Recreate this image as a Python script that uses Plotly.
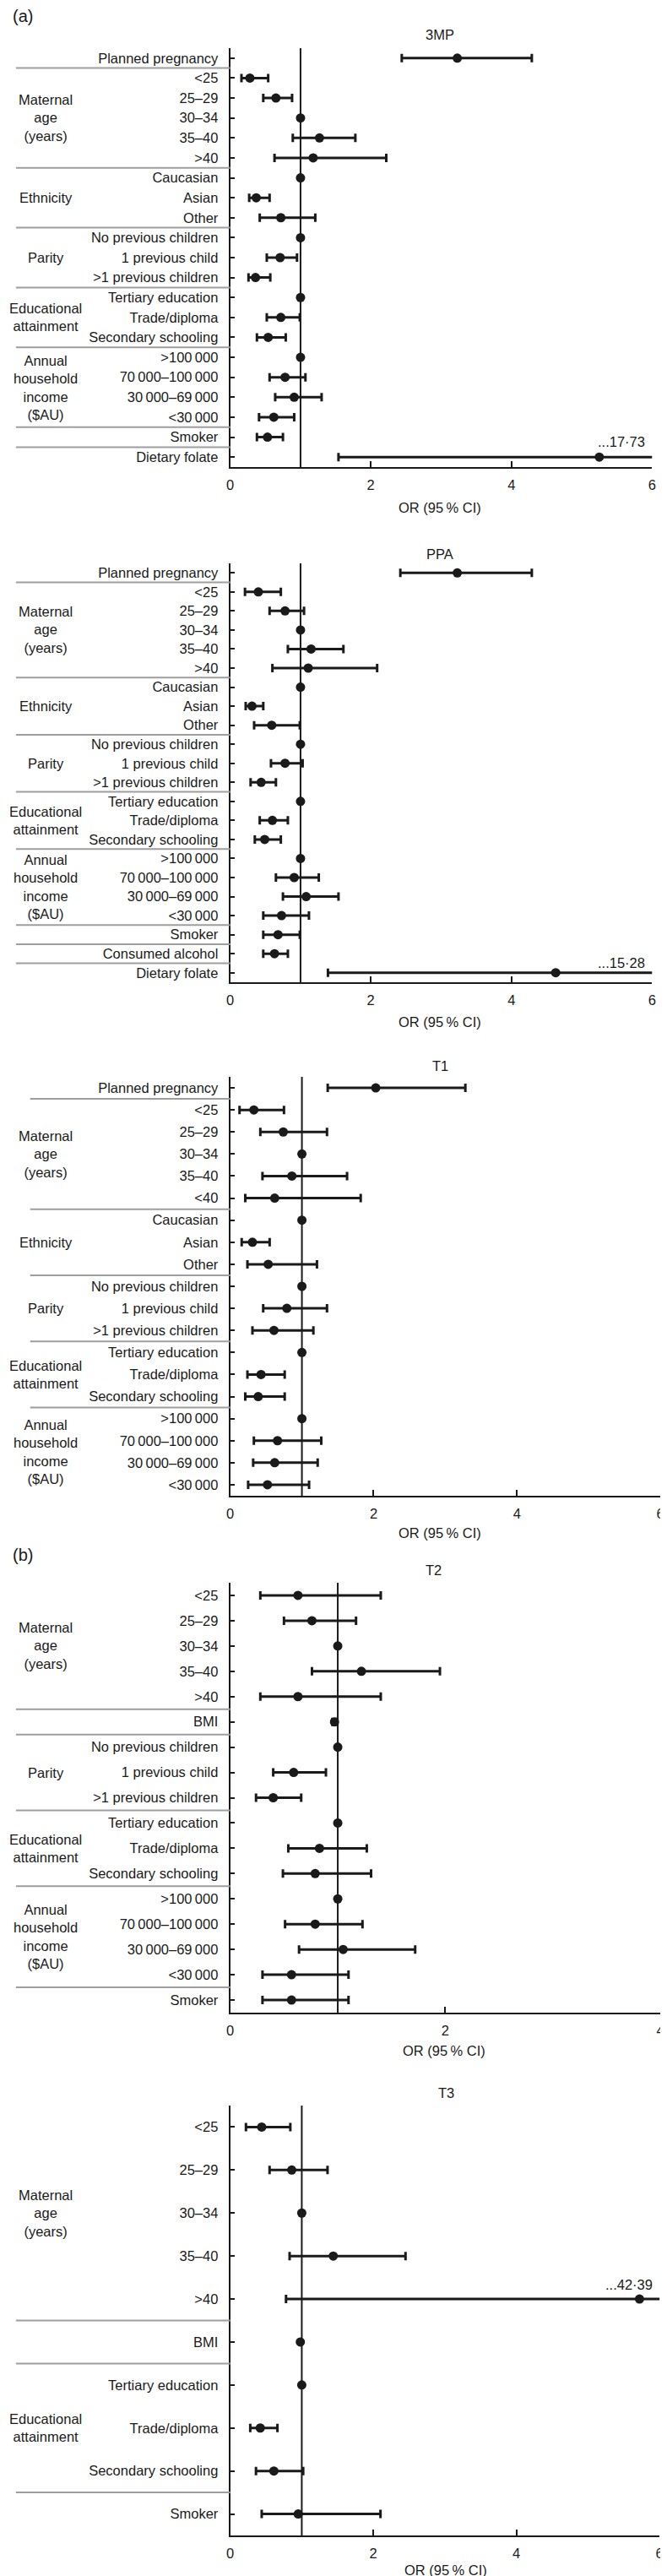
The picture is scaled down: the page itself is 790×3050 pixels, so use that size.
import plotly.graph_objects as go

W, H = 790, 3050
FONT = "Liberation Sans, Arial, sans-serif"
INK = "#1a1a1a"
SEP = "#9e9e9e"
FS = 16.5

# ---------------- data ----------------
cats_3mp = ["Planned pregnancy", "<25", "25–29", "30–34", "35–40", ">40",
            "Caucasian", "Asian", "Other",
            "No previous children", "1 previous child", ">1 previous children",
            "Tertiary education", "Trade/diploma", "Secondary schooling",
            ">100\u2009000", "70\u2009000–100\u2009000", "30\u2009000–69\u2009000", "<30\u2009000",
            "Smoker", "Dietary folate"]
or_3mp = [3.23, 0.28, 0.65, 1, 1.27, 1.18, 1, 0.37, 0.72, 1, 0.71, 0.36, 1, 0.72, 0.54, 1, 0.78, 0.91, 0.62, 0.53, 5.25]
lo_3mp = [2.44, 0.16, 0.47, 1, 0.89, 0.63, 1, 0.27, 0.42, 1, 0.52, 0.26, 1, 0.52, 0.38, 1, 0.56, 0.64, 0.41, 0.38, 1.54]
hi_3mp = [4.29, 0.54, 0.88, 1, 1.78, 2.22, 1, 0.56, 1.21, 1, 0.95, 0.57, 1, 0.99, 0.79, 1, 1.07, 1.30, 0.91, 0.75, 17.73]

cats_ppa = ["Planned pregnancy", "<25", "25–29", "30–34", "35–40", ">40",
            "Caucasian", "Asian", "Other",
            "No previous children", "1 previous child", ">1 previous children",
            "Tertiary education", "Trade/diploma", "Secondary schooling",
            ">100\u2009000", "70\u2009000–100\u2009000", "30\u2009000–69\u2009000", "<30\u2009000",
            "Smoker", "Consumed alcohol", "Dietary folate"]
or_ppa = [3.23, 0.40, 0.78, 1, 1.15, 1.11, 1, 0.31, 0.59, 1, 0.78, 0.44, 1, 0.60, 0.49, 1, 0.91, 1.08, 0.73, 0.68, 0.63, 4.63]
lo_ppa = [2.42, 0.21, 0.56, 1, 0.82, 0.60, 1, 0.22, 0.34, 1, 0.58, 0.29, 1, 0.42, 0.35, 1, 0.65, 0.75, 0.47, 0.47, 0.47, 1.39]
hi_ppa = [4.29, 0.72, 1.05, 1, 1.61, 2.09, 1, 0.47, 0.99, 1, 1.03, 0.65, 1, 0.82, 0.72, 1, 1.26, 1.54, 1.12, 0.99, 0.82, 15.28]

cats_t1 = ["Planned pregnancy", "<25", "25–29", "30–34", "35–40", "<40",
           "Caucasian", "Asian", "Other",
           "No previous children", "1 previous child", ">1 previous children",
           "Tertiary education", "Trade/diploma", "Secondary schooling",
           ">100\u2009000", "70\u2009000–100\u2009000", "30\u2009000–69\u2009000", "<30\u2009000"]
or_t1 = [2.03, 0.33, 0.74, 1, 0.86, 0.62, 1, 0.31, 0.53, 1, 0.79, 0.61, 1, 0.43, 0.39, 1, 0.66, 0.62, 0.52]
lo_t1 = [1.36, 0.13, 0.42, 1, 0.45, 0.21, 1, 0.16, 0.24, 1, 0.46, 0.31, 1, 0.24, 0.21, 1, 0.33, 0.32, 0.25]
hi_t1 = [3.28, 0.75, 1.35, 1, 1.63, 1.82, 1, 0.55, 1.21, 1, 1.35, 1.16, 1, 0.76, 0.76, 1, 1.27, 1.22, 1.10]

cats_t2 = ["<25", "25–29", "30–34", "35–40", ">40", "BMI",
           "No previous children", "1 previous child", ">1 previous children",
           "Tertiary education", "Trade/diploma", "Secondary schooling",
           ">100\u2009000", "70\u2009000–100\u2009000", "30\u2009000–69\u2009000", "<30\u2009000",
           "Smoker"]
or_t2 = [0.63, 0.76, 1, 1.22, 0.63, 0.97, 1, 0.59, 0.40, 1, 0.83, 0.79, 1, 0.79, 1.05, 0.57, 0.57]
lo_t2 = [0.28, 0.50, 1, 0.76, 0.28, 0.95, 1, 0.40, 0.24, 1, 0.54, 0.49, 1, 0.51, 0.64, 0.30, 0.30]
hi_t2 = [1.40, 1.17, 1, 1.95, 1.40, 0.99, 1, 0.89, 0.66, 1, 1.27, 1.31, 1, 1.23, 1.72, 1.10, 1.10]

cats_t3 = ["<25", "25–29", "30–34", "35–40", ">40", "BMI",
           "Tertiary education", "Trade/diploma", "Secondary schooling", "Smoker"]
or_t3 = [0.44, 0.86, 1, 1.44, 5.72, 0.98, 1, 0.42, 0.61, 0.95]
lo_t3 = [0.22, 0.55, 1, 0.83, 0.78, 0.97, 1, 0.28, 0.36, 0.44]
hi_t3 = [0.84, 1.36, 1, 2.45, 42.39, 0.99, 1, 0.66, 1.02, 2.10]

groups_a = [("Maternal<br>age<br>(years)", 1, 5), ("Ethnicity", 6, 8), ("Parity", 9, 11),
            ("Educational<br>attainment", 12, 14), ("Annual<br>household<br>income<br>($AU)", 15, 18)]
groups_t2 = [("Maternal<br>age<br>(years)", 0, 4), ("Parity", 6, 8),
             ("Educational<br>attainment", 9, 11), ("Annual<br>household<br>income<br>($AU)", 12, 15)]
groups_t3 = [("Maternal<br>age<br>(years)", 0, 4), ("Educational<br>attainment", 6, 8)]

seps_3mp = [0, 5, 8, 11, 14, 18, 19]
seps_ppa = [0, 5, 8, 11, 14, 18, 19, 20]
seps_t1 = [0, 5, 8, 11, 14]
seps_t2 = [4, 5, 8, 11, 15]
seps_t3 = [4, 5, 8]

titles = ["3MP", "PPA", "T1", "T2", "T3"]
xmaxes = [6, 6, 6, 4, 6]

# ---------------- layout geometry (pixels) ----------------
panels = [
    dict(cats=cats_3mp, o=or_3mp, lo=lo_3mp, hi=hi_3mp, groups=groups_a, seps=seps_3mp,
         x0=263, x1=769, top=49, bot=545, title_xy=(515, 33), orlab_xy=(515, 593), sepx0=6, tshift=18),
    dict(cats=cats_ppa, o=or_ppa, lo=lo_ppa, hi=hi_ppa, groups=groups_a, seps=seps_ppa,
         x0=263, x1=769, top=659, bot=1155, title_xy=(515, 648), orlab_xy=(515, 1202), sepx0=6, tshift=12),
    dict(cats=cats_t1, o=or_t1, lo=lo_t1, hi=hi_t1, groups=groups_a, seps=seps_t1,
         x0=263, x1=779, top=1267, bot=1763, title_xy=(515, 1254), orlab_xy=(515, 1807), sepx0=23, tshift=18),
    dict(cats=cats_t2, o=or_t2, lo=lo_t2, hi=hi_t2, groups=groups_t2, seps=seps_t2,
         x0=263, x1=779, top=1866, bot=2375, title_xy=(507, 1851), orlab_xy=(520, 2420), sepx0=6, tshift=18),
    dict(cats=cats_t3, o=or_t3, lo=lo_t3, hi=hi_t3, groups=groups_t3, seps=seps_t3,
         x0=263, x1=778, top=2485, bot=2994, title_xy=(522, 2470), orlab_xy=(522, 3035), sepx0=6, tshift=17),
]


def px_x(v):
    return v / W


def px_y(v):
    return 1 - v / H


fig = go.Figure()
shapes = []
annotations = []
layout = {}

for k, p in enumerate(panels):
    idx = "" if k == 0 else str(k + 1)
    xa, ya = "x" + idx, "y" + idx
    n = len(p["cats"])
    xmax = xmaxes[k]
    ys = list(range(n))
    plus = [(h - o) if h != l else None for o, l, h in zip(p["o"], p["lo"], p["hi"])]
    minus = [(o - l) if h != l else None for o, l, h in zip(p["o"], p["lo"], p["hi"])]
    fig.add_trace(go.Scatter(
        x=p["o"], y=ys, mode="markers", xaxis=xa, yaxis=ya, showlegend=False,
        marker=dict(symbol="circle", size=11, color=INK),
        error_x=dict(type="data", symmetric=False, array=plus, arrayminus=minus,
                     color=INK, thickness=3, width=5),
        hoverinfo="skip"))

    layout["xaxis" + idx] = dict(
        domain=[px_x(p["x0"]), px_x(p["x1"])], range=[0, xmax], anchor=ya,
        tickvals=list(range(0, xmax + 1, 2)), ticks="inside", ticklen=7, tickwidth=2,
        tickcolor=INK, showline=True, linewidth=2, linecolor=INK, showgrid=False,
        zeroline=False, ticklabelstandoff=5, ticklabeloverflow="allow",
        tickfont=dict(family=FONT, size=FS, color=INK), fixedrange=True)
    layout["yaxis" + idx] = dict(
        domain=[px_y(p["bot"]), px_y(p["top"])], range=[n - 0.5, -0.5], anchor=xa,
        tickvals=ys, ticktext=p["cats"], ticks="inside", ticklen=5, tickwidth=2,
        tickcolor=INK, showline=True, linewidth=2, linecolor=INK, showgrid=False,
        zeroline=False, ticklabelstandoff=9, ticklabeloverflow="allow",
        tickfont=dict(family=FONT, size=FS, color=INK), fixedrange=True)

    # reference line at OR = 1
    shapes.append(dict(type="line", xref=xa, yref=ya + " domain", x0=1, x1=1, y0=0, y1=1,
                       line=dict(color=INK, width=2), layer="below"))
    # group separators
    for s in p["seps"]:
        shapes.append(dict(type="line", xref="paper", yref=ya,
                           x0=px_x(p["sepx0"]), x1=px_x(p["x0"]), y0=s + 0.5, y1=s + 0.5,
                           line=dict(color=SEP, width=2)))
    # group labels
    for text, a, b in p["groups"]:
        annotations.append(dict(text=text, xref="paper", yref=ya, x=px_x(42), y=(a + b) / 2,
                                showarrow=False, align="center", xanchor="center", yanchor="middle",
                                font=dict(family=FONT, size=FS, color=INK)))
    # truncated upper limits
    for i, h in enumerate(p["hi"]):
        if h > xmax:
            annotations.append(dict(text="..." + f"{h:.2f}".replace(".", "·"), xref=xa, yref=ya,
                                    x=xmax, y=i, yshift=p["tshift"], xshift=-6, showarrow=False,
                                    xanchor="right", yanchor="middle",
                                    font=dict(family=FONT, size=FS, color=INK)))
    # titles and axis labels
    tx, ty = p["title_xy"]
    annotations.append(dict(text=titles[k], xref="paper", yref="paper", x=px_x(tx), y=px_y(ty),
                            showarrow=False, xanchor="center", yanchor="middle",
                            font=dict(family=FONT, size=FS, color=INK)))
    lx, ly = p["orlab_xy"]
    annotations.append(dict(text="OR (95\u2009% CI)", xref="paper", yref="paper", x=px_x(lx), y=px_y(ly),
                            showarrow=False, xanchor="center", yanchor="middle",
                            font=dict(family=FONT, size=FS, color=INK)))

for lab, yy in [("(a)", 11), ("(b)", 1833)]:
    annotations.append(dict(text=lab, xref="paper", yref="paper", x=0, y=px_y(yy),
                            showarrow=False, xanchor="left", yanchor="middle",
                            font=dict(family=FONT, size=20, color=INK)))

fig.update_layout(
    width=W, height=H, margin=dict(l=0, r=0, t=0, b=0),
    paper_bgcolor="white", plot_bgcolor="white",
    shapes=shapes, annotations=annotations, showlegend=False,
    font=dict(family=FONT, size=FS, color=INK),
    **layout)

fig.write_html("out.html")
